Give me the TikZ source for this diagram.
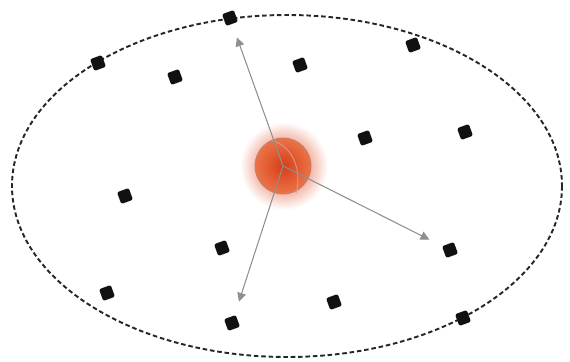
\documentclass[tikz,border=0pt]{standalone}
\usepackage{xcolor}
\usepackage{tikz}
\usetikzlibrary{arrows.meta}
\definecolor{Dot}{HTML}{111111}
\definecolor{Ray}{HTML}{8F8F8F}
\definecolor{Glow}{HTML}{E0481F}
\definecolor{CoreIn}{HTML}{D63E18}
\definecolor{CoreOut}{HTML}{EC7347}
\definecolor{Rim}{HTML}{A84A2E}

\begin{document}
\begin{tikzpicture}[x=0.02cm,y=-0.02cm,
    pt/.style={rectangle,fill=Dot,rounded corners=1.2pt,minimum size=0.25cm,inner sep=0pt,rotate=20},
    ray/.style={draw=Ray,line width=0.6pt,-{Triangle[length=5pt,width=5pt]},shorten >=8pt},
    bound/.style={draw=black!85,line width=1.1pt,dash pattern=on 2.6pt off 1.6pt}
]
\useasboundingbox (0,0) rectangle (570,361);
% glow round the source
\shade[inner color=Glow,outer color=white] (284,166) circle (44);
\node[circle,minimum size=1.12cm,inner sep=0pt,draw=Rim!70,line width=0.5pt,
      inner color=CoreIn,outer color=CoreOut] (src) at (283,166) {};
\draw[Rim!55,line width=0.5pt] (272,140) .. controls (300,150) and (300,180) .. (296,193);
% boundary
\draw[bound] (287,186) ellipse [x radius=275, y radius=171];
% points
\foreach \n/\x/\y in {1/230/18,2/98/63,3/175/77,4/300/65,5/413/45,6/365/138,7/465/132,
    8/125/196,9/222/248,10/450/250,11/107/293,12/334/302,13/232/323,14/463/318}{
    \node[pt] (p\n) at (\x,\y) {};
}
% rays
\draw[ray] (src.center) -- (p1);
\draw[ray] (src.center) -- (p10);
\draw[ray] (src.center) -- (p13);
\end{tikzpicture}
\end{document}
